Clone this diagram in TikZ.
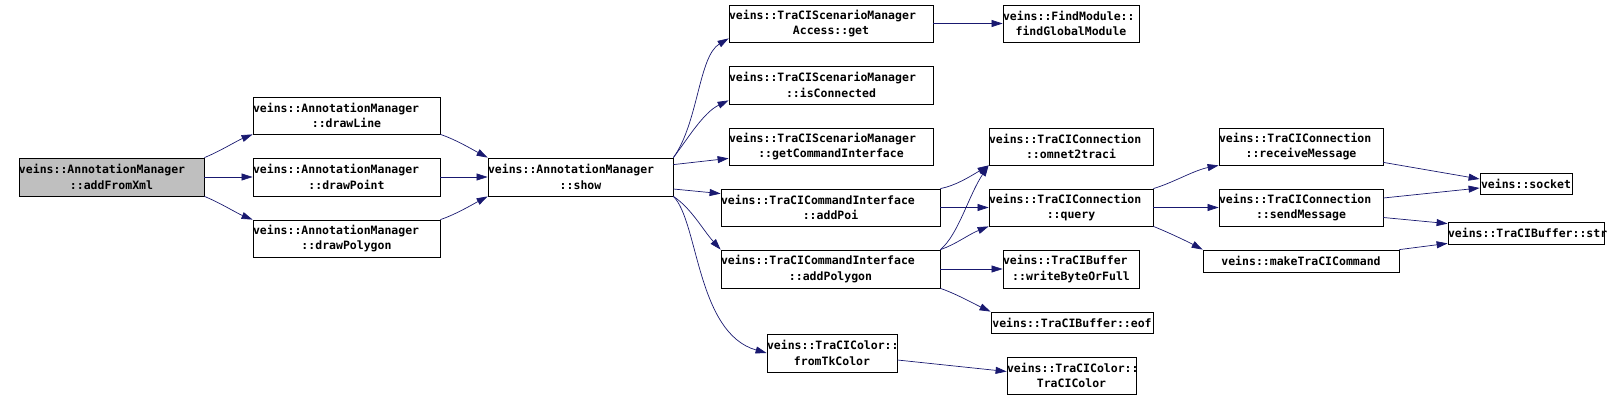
\documentclass[tikz,border=0pt]{standalone}
\usepackage{fontspec}
\usepackage{tikz}
\usetikzlibrary{arrows.meta}
\newfontfamily\callfont{DejaVu Sans Mono}
\definecolor{EdgeBlue}{RGB}{25,25,112}
\definecolor{RootGray}{RGB}{191,191,191}
\newcommand{\fline}[1]{\makebox[\linewidth][l]{#1}}
\tikzset{
  fn/.style={draw=black, fill=white, line width=0.8pt, inner sep=0pt, align=center,
    font=\callfont\bfseries\fontsize{11.5}{15.3}\selectfont},
  call/.style={draw=EdgeBlue, line width=0.7pt, -{Triangle[length=11pt,width=7pt]}}
}

\begin{document}
\begin{tikzpicture}[x=1pt,y=-1pt]
  \useasboundingbox (0,0) rectangle (1620,401);
  % functions
  \node[fn, fill=RootGray, text width=185pt, minimum height=38pt] (fromXml) at (111.5,177) {\fline{veins::AnnotationManager}\\::addFromXml};
  \node[fn, text width=187pt, minimum height=37pt] (drawLine) at (346.5,115.5) {\fline{veins::AnnotationManager}\\::drawLine};
  \node[fn, text width=187pt, minimum height=38pt] (drawPoint) at (346.5,177) {\fline{veins::AnnotationManager}\\::drawPoint};
  \node[fn, text width=187pt, minimum height=37pt] (drawPolygon) at (346.5,238.5) {\fline{veins::AnnotationManager}\\::drawPolygon};
  \node[fn, text width=185pt, minimum height=38pt] (show) at (580.5,177) {\fline{veins::AnnotationManager}\\::show};
  \node[fn, text width=204pt, minimum height=37pt] (smaGet) at (831,23.5) {\fline{veins::TraCIScenarioManager}\\Access::get};
  \node[fn, text width=204pt, minimum height=38pt] (isConn) at (831,85) {\fline{veins::TraCIScenarioManager}\\::isConnected};
  \node[fn, text width=204pt, minimum height=37pt] (getCmdIf) at (831,146.5) {\fline{veins::TraCIScenarioManager}\\::getCommandInterface};
  \node[fn, text width=219pt, minimum height=37pt] (addPoi) at (830.5,207.5) {\fline{veins::TraCICommandInterface}\\::addPoi};
  \node[fn, text width=219pt, minimum height=38pt] (addPolygon) at (830.5,269) {\fline{veins::TraCICommandInterface}\\::addPolygon};
  \node[fn, text width=130pt, minimum height=38pt] (fromTk) at (832,353) {\fline{veins::TraCIColor::}\\fromTkColor};
  \node[fn, text width=136pt, minimum height=37pt] (findGlobal) at (1071,23.5) {\fline{veins::FindModule::}\\findGlobalModule};
  \node[fn, text width=164pt, minimum height=37pt] (omnetTraci) at (1071,146.5) {\fline{veins::TraCIConnection}\\::omnet2traci};
  \node[fn, text width=164pt, minimum height=37pt] (query) at (1071,207.5) {\fline{veins::TraCIConnection}\\::query};
  \node[fn, text width=136pt, minimum height=38pt] (writeByte) at (1071,269) {\fline{veins::TraCIBuffer}\\::writeByteOrFull};
  \node[fn, text width=162pt, minimum height=21pt] (bufEof) at (1072,322.5) {veins::TraCIBuffer::eof};
  \node[fn, text width=129pt, minimum height=37pt] (traciColor) at (1071.5,375.5) {\fline{veins::TraCIColor::}\\TraCIColor};
  \node[fn, text width=164pt, minimum height=37pt] (recvMsg) at (1301,146.5) {\fline{veins::TraCIConnection}\\::receiveMessage};
  \node[fn, text width=164pt, minimum height=37pt] (sendMsg) at (1301,207.5) {\fline{veins::TraCIConnection}\\::sendMessage};
  \node[fn, text width=196pt, minimum height=22pt] (makeCmd) at (1301,261) {veins::makeTraCICommand};
  \node[fn, text width=92pt, minimum height=21pt] (socket) at (1526,183.5) {veins::socket};
  \node[fn, text width=156pt, minimum height=22pt] (bufStr) at (1526,233) {veins::TraCIBuffer::str};
  % calls
  \draw[call] (fromXml.north east) .. controls +(15,-6) and +(-15,6) .. (drawLine.south west);
  \draw[call] (fromXml.east) -- (drawPoint.west);
  \draw[call] (fromXml.south east) .. controls +(15,6) and +(-15,-6) .. (drawPolygon.north west);
  \draw[call] (drawLine.south east) .. controls +(15,5) and +(-15,-8) .. (show.north west);
  \draw[call] (drawPoint.east) -- (show.west);
  \draw[call] (drawPolygon.north east) .. controls +(15,-5) and +(-15,8) .. (show.south west);
  \draw[call] (show.north east) .. controls +(25,-35) and +(-30,18) .. ([yshift=4pt]smaGet.south west);
  \draw[call] (show.north east) .. controls +(15,-20) and +(-25,12) .. ([yshift=4pt]isConn.south west);
  \draw[call] ([yshift=-7pt]show.north east) -- ([yshift=7pt]getCmdIf.south west);
  \draw[call] ([yshift=-12pt]show.east) -- ([yshift=-5pt]addPoi.north west);
  \draw[call] (show.south east) .. controls +(18,12) and +(-18,-20) .. (addPolygon.north west);
  \draw[call] (show.south east) .. controls +(25,25) and +(-70,-20) .. (fromTk.west);
  \draw[call] (smaGet.east) -- (findGlobal.west);
  \draw[call] (addPoi.north east) .. controls +(15,-3) and +(-20,12) .. (omnetTraci.south west);
  \draw[call] (addPoi.east) -- (query.west);
  \draw[call] (addPolygon.north east) .. controls +(18,-15) and +(-20,30) .. (omnetTraci.south west);
  \draw[call] (addPolygon.north east) .. controls +(15,-5) and +(-20,8) .. (query.south west);
  \draw[call] (addPolygon.east) -- (writeByte.west);
  \draw[call] (addPolygon.south east) .. controls +(15,5) and +(-15,-7) .. (bufEof.north west);
  \draw[call] ([yshift=-7pt]fromTk.east) -- ([yshift=4pt]traciColor.west);
  \draw[call] (query.north east) .. controls +(20,-6) and +(-25,5) .. (recvMsg.south west);
  \draw[call] (query.east) -- (sendMsg.west);
  \draw[call] (query.south east) .. controls +(15,6) and +(-15,-8) .. (makeCmd.north west);
  \draw[call] ([yshift=3pt]recvMsg.south east) -- ([yshift=4.5pt]socket.west);
  \draw[call] ([yshift=9.5pt]sendMsg.east) -- ([yshift=-4.5pt]socket.west);
  \draw[call] ([yshift=-10pt]sendMsg.east) -- ([yshift=-2pt]bufStr.north west);
  \draw[call] (makeCmd.north east) -- ([yshift=1pt]bufStr.south west);
\end{tikzpicture}
\end{document}
